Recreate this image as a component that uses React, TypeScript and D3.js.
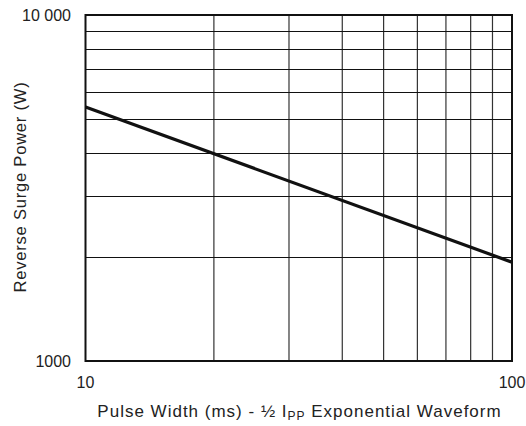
import React from "react";
import * as d3 from "d3";

const xDomain = [10, 100];
const yDomain = [1000, 10000];
const xGrid = [20, 30, 40, 50, 60, 70, 80, 90];
const yGrid = [2000, 3000, 4000, 5000, 6000, 7000, 8000, 9000];
const xTickLabels = [
  { v: 10, label: "10" },
  { v: 100, label: "100" },
];
const yTickLabels = [
  { v: 1000, label: "1000" },
  { v: 10000, label: "10 000" },
];
const pulseWidth = [10, 100];
const surgePower = [5420, 1930];

export default function App() {
  const W = 526, H = 426;
  const left = 85.5, right = 512, top = 15, bottom = 361;
  const x = d3.scaleLog().domain(xDomain).range([left, right]);
  const y = d3.scaleLog().domain(yDomain).range([bottom, top]);
  const pts = pulseWidth.map((v, i) => [v, surgePower[i]] as [number, number]);
  const line = d3.line<[number, number]>().x((d) => x(d[0])).y((d) => y(d[1]));
  const font = "Liberation Sans, Arial, Helvetica, sans-serif";
  return (
    <svg width={W} height={H} style={{ position: "absolute", left: 0, top: 0 }} fontFamily={font}>
      <rect width={W} height={H} fill="#fff" />
      {xGrid.map((v) => (
        <line key={"x" + v} x1={x(v)} x2={x(v)} y1={top} y2={bottom} stroke="#333" strokeWidth={1.2} />
      ))}
      {yGrid.map((v) => (
        <line key={"y" + v} x1={left} x2={right} y1={Math.round(y(v)) + 0.5} y2={Math.round(y(v)) + 0.5} stroke="#111" strokeWidth={1.2} />
      ))}
      <path d={line(pts) || ""} fill="none" stroke="#111" strokeWidth={3.2} />
      <rect x={left} y={top} width={right - left} height={bottom - top} fill="none" stroke="#111" strokeWidth={2} />
      {yTickLabels.map((t) => (
        <text key={t.label} x={71} y={y(t.v) + 6} textAnchor="end" fontSize={16} fill="#222">
          {t.label}
        </text>
      ))}
      {xTickLabels.map((t) => (
        <text key={t.label} x={x(t.v)} y={388} textAnchor="middle" fontSize={16} fill="#222">
          {t.label}
        </text>
      ))}
      <text x={299.5} y={417} textAnchor="middle" fontSize={17} letterSpacing={1.0} fill="#222">
        Pulse Width (ms) - ½ I<tspan fontSize={12} dy={3}>PP</tspan>
        <tspan dy={-3}> Exponential Waveform</tspan>
      </text>
      <text transform={`translate(26,187) rotate(-90)`} textAnchor="middle" fontSize={16.5} letterSpacing={0.8} fill="#222">
        Reverse Surge Power (W)
      </text>
    </svg>
  );
}
